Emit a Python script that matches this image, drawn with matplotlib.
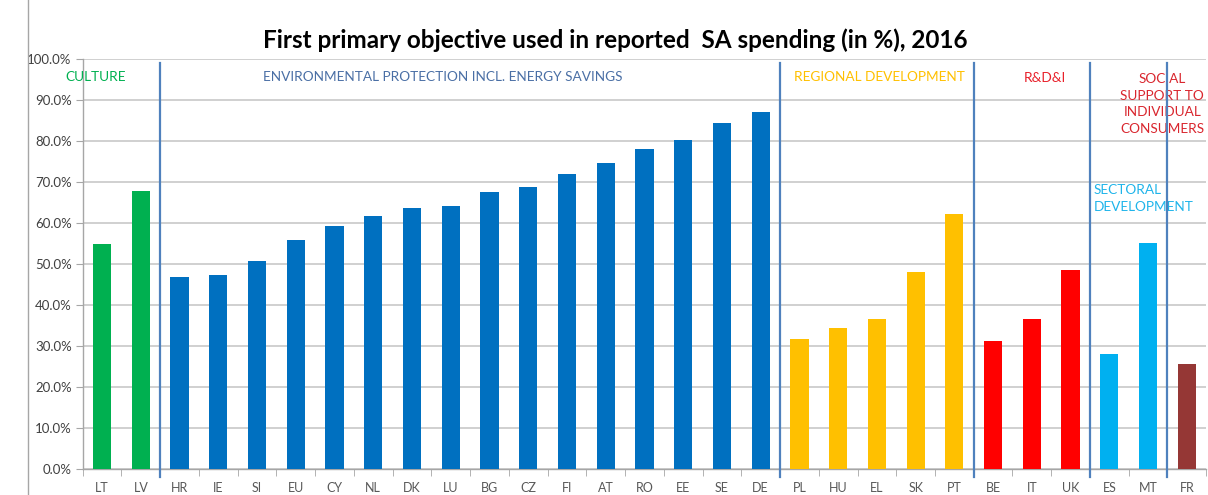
import matplotlib.pyplot as plt
from matplotlib.lines import Line2D

plt.rcParams['font.family'] = ['Lato', 'DejaVu Sans']

# data
countries = ['LT', 'LV',
             'HR', 'IE', 'SI', 'EU', 'CY', 'NL', 'DK', 'LU', 'BG', 'CZ',
             'FI', 'AT', 'RO', 'EE', 'SE', 'DE',
             'PL', 'HU', 'EL', 'SK', 'PT',
             'BE', 'IT', 'UK',
             'ES', 'MT',
             'FR']
values = [55.0, 67.8,
          46.8, 47.3, 50.8, 55.8, 59.2, 61.8, 63.6, 64.1, 67.6, 68.8,
          72.0, 74.7, 78.0, 80.2, 84.3, 87.0,
          31.7, 34.3, 36.5, 48.0, 62.3,
          31.3, 36.5, 48.5,
          28.0, 55.2,
          25.6]
group_sizes = [2, 16, 5, 3, 2, 1]
group_colors = ['#00B050', '#0070C0', '#FFC000', '#FF0000', '#00B0F0', '#953735']

bar_colors = []
for n, c in zip(group_sizes, group_colors):
    bar_colors += [c] * n

fig = plt.figure(figsize=(12.08, 4.95), dpi=100)
ax = fig.add_axes([0.0685, 0.0525, 0.9300, 0.8283])

x = list(range(len(countries)))
ax.bar(x, values, width=0.47, color=bar_colors, zorder=3)

ax.set_xlim(-0.5, len(countries) - 0.5)
ax.set_ylim(0, 100)
ax.set_yticks(range(0, 101, 10))
ax.set_yticklabels([f'{v:.1f}%' for v in range(0, 101, 10)])
ax.set_xticks(x)
ax.set_xticklabels(countries)
ax.set_xticks([i + 0.5 for i in range(-1, len(countries))], minor=True)
ax.tick_params(axis='x', which='major', length=0, pad=9, labelsize=9, labelcolor='#595959')
ax.tick_params(axis='x', which='minor', length=5, color='#A6A6A6', direction='out')
ax.tick_params(axis='y', length=5, color='#A6A6A6', labelsize=9.5, labelcolor='#404040', pad=3)

ax.grid(axis='y', color='#C8C8C8', linewidth=1.2, zorder=0)
for s in ['top', 'right']:
    ax.spines[s].set_visible(False)
for s in ['left', 'bottom']:
    ax.spines[s].set_color('#A6A6A6')
    ax.spines[s].set_linewidth(1.0)

# group separators
pos = 0
for n in group_sizes[:-1]:
    pos += n
    ax.plot([pos - 0.5, pos - 0.5], [-2, 99], color='#4F81BD', linewidth=1.6,
            clip_on=False, zorder=4)

# group labels
lab = dict(fontsize=9.8, va='center')
ax.text(-0.96, 95.5, 'CULTURE', color='#00B050', ha='left', **lab)
ax.text(4.15, 95.5, 'ENVIRONMENTAL PROTECTION INCL. ENERGY SAVINGS', color='#4A6FA5',
        ha='left', **lab)
ax.text(17.87, 95.5, 'REGIONAL DEVELOPMENT', color='#FFC000', ha='left', **lab)
ax.text(23.8, 95.3, 'R&D&I', color='#E8202A', ha='left', **lab)
ax.text(25.6, 66.0, 'SECTORAL\nDEVELOPMENT', color='#1FB4EA', ha='left',
        linespacing=1.45, **lab)
ax.text(28.45, 89.0, 'SOCIAL\nSUPPORT TO\nINDIVIDUAL\nCONSUMERS', color='#D9262E',
        ha='right', multialignment='center', linespacing=1.45, clip_on=False, **lab)

fig.text(0.509, 0.918, 'First primary objective used in reported  SA spending (in %), 2016',
         ha='center', va='center', fontsize=17.5, fontweight='bold', color='#000000')

# chart frame on the left
fig.add_artist(Line2D([28 / 1208, 28 / 1208], [0, 1], transform=fig.transFigure,
                      color='#A6A6A6', linewidth=1.0))

fig.savefig('out.png', dpi=100)
